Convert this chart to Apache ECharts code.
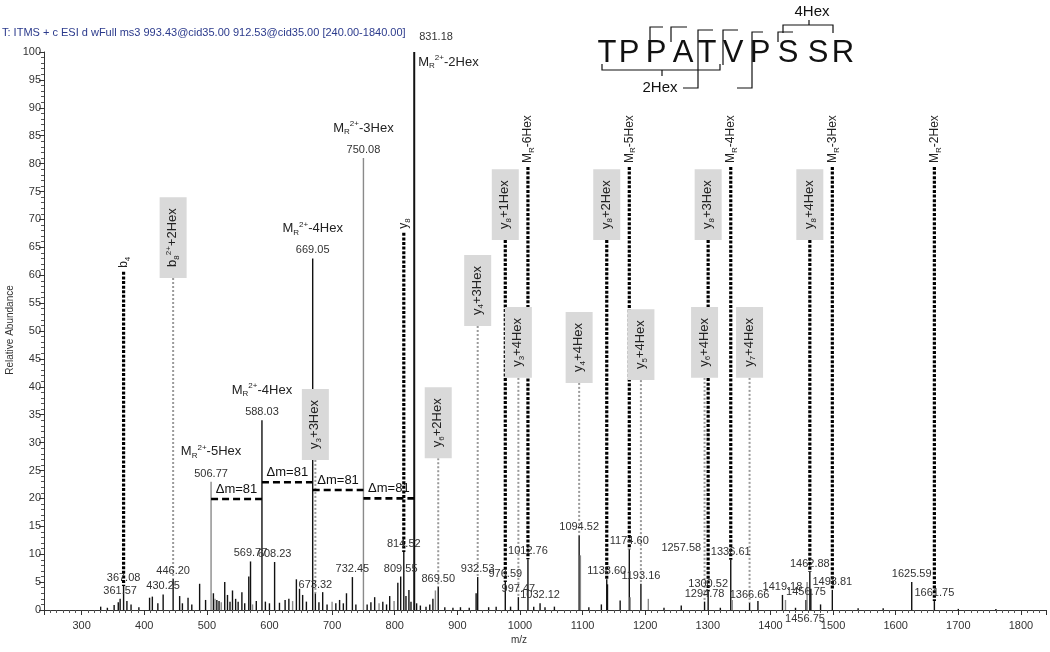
<!DOCTYPE html>
<html><head><meta charset="utf-8">
<script src="https://cdn.jsdelivr.net/npm/echarts@6/dist/echarts.min.js"></script>
<style>html,body{margin:0;padding:0;background:#fff}#c{width:1050px;height:652px}</style>
</head><body><div id="c"></div>
<script>
// ---------- DATA ----------
const titleText = 'T: ITMS + c ESI d wFull ms3 993.43@cid35.00 912.53@cid35.00 [240.00-1840.00]';
const xName = 'm/z';
const yName = 'Relative Abundance';
const sequence = ['T','P','P','A','T','V','P','S','S','R'];

const peakMz = [330.5,341.2,352.0,358.6,361.57,367.08,372.4,379.0,391.5,408.6,413.0,421.8,430.25,446.20,456.6,461.0,470.0,476.0,488.5,498.0,
  506.77,510.5,513.0,516.0,519.5,523.0,528.6,533.0,537.0,541.0,546.0,550.0,556.0,560.5,567.0,569.77,573.0,579.0,588.03,593.5,600.0,
  608.23,616.0,625.0,631.0,637.0,643.0,648.0,653.0,659.0,669.05,673.32,679.0,685.0,692.0,700.0,706.0,712.0,718.0,723.0,732.45,738.0,
  750.08,756.0,762.0,768.0,775.0,781.0,787.0,792.0,799.0,805.0,809.55,814.52,818.0,822.7,826.0,831.18,835.0,841.0,850.0,856.0,861.0,
  865.0,869.50,880.0,893.0,905.0,919.0,930.0,932.53,950.0,962.0,976.59,985.0,997.47,1012.76,1022.0,1032.12,1040.0,1055.0,1094.52,
  1096.5,1110.0,1130.0,1138.60,1139.8,1160.0,1174.60,1176.0,1193.16,1205.0,1230.0,1257.58,1294.78,1300.52,1320.0,1336.61,1339.0,
  1366.66,1380.0,1419.18,1424.0,1440.0,1456.75,1458.5,1462.88,1464.5,1480.0,1498.81,1540.0,1580.0,1625.59,1661.75,1700.0,1760.0];
const peakInt = [0.6,0.4,0.9,1.4,2.0,4.3,1.6,1.0,0.5,2.2,2.4,1.2,2.8,5.6,2.5,1.2,2.2,1.0,4.7,1.8,
  23.0,3.0,2.0,1.8,1.6,1.4,5.0,2.7,1.5,3.5,2.0,1.5,3.2,1.2,6.0,8.7,1.0,1.6,34.0,1.5,1.2,
  8.6,1.3,1.8,2.0,1.6,5.5,3.8,2.7,1.5,63.0,3.0,1.4,3.2,1.0,1.5,1.2,1.8,1.2,3.0,5.9,1.0,
  81.0,1.0,1.4,2.3,1.2,1.5,1.0,2.5,1.6,4.9,6.0,10.4,2.5,3.6,1.5,100,1.2,0.8,0.6,1.0,2.0,
  3.5,4.2,0.5,0.4,0.5,0.4,3.0,5.9,0.5,0.6,5.0,0.6,2.3,9.1,0.6,1.2,0.5,0.6,13.4,
  9.8,0.5,1.0,5.5,4.6,1.7,10.9,2.3,4.7,2.0,0.4,0.8,1.5,3.3,0.4,9.0,1.8,
  1.3,1.6,2.7,1.8,0.4,1.8,5.0,6.8,3.8,1.0,3.6,0.3,0.3,5.0,1.6,0.2,0.2];
const grayMz = [750.08,506.77,1458.5,1176.0,1205.0,573.0,513.0,523.0,637.0,700.0,775.0,799.0,865.0,1096.5,1339.0,1424.0];

const labeledMz = [361.57,367.08,430.25,446.20,506.77,569.77,588.03,608.23,669.05,673.32,732.45,750.08,809.55,814.52,831.18,869.50,
  932.53,976.59,997.47,1012.76,1032.12,1094.52,1138.60,1174.60,1193.16,1257.58,1294.78,1300.52,1336.61,1366.66,1419.18,1456.75,
  1462.88,1498.81,1625.59,1661.75];
const labelFloorMz = [1257.58];
const labelFloorVal = [9.6];

const precursorMz = [506.77,588.03,669.05,750.08,831.18];
const precursorName = ['M{s|R}{p|2+}-5Hex','M{s|R}{p|2+}-4Hex','M{s|R}{p|2+}-4Hex','M{s|R}{p|2+}-3Hex','M{s|R}{p|2+}-2Hex'];

const annMz   = [367.08,446.20,814.52,673.32,869.50,932.53,976.59,1012.76,997.47,1094.52,1138.60,1174.60,1193.16,1294.78,1300.52,1336.61,1366.66,1462.88,1498.81,1661.75];
const annTop  = [60.6,59.5,67.6,26.9,27.2,50.9,66.3,79.4,41.6,40.7,66.3,79.4,41.2,41.6,66.3,79.4,41.6,66.3,79.4,79.4];
const annText = ['b{s|4}','b{s|8}{p|2+}+2Hex','y{s|8}','y{s|3}+3Hex','y{s|6}+2Hex','y{s|4}+3Hex','y{s|8}+1Hex','M{s|R}-6Hex',
  'y{s|3}+4Hex','y{s|4}+4Hex','y{s|8}+2Hex','M{s|R}-5Hex','y{s|5}+4Hex','y{s|6}+4Hex','y{s|8}+3Hex','M{s|R}-4Hex','y{s|7}+4Hex',
  'y{s|8}+4Hex','M{s|R}-3Hex','M{s|R}-2Hex'];
const annThick = [1,0,1,0,0,0,1,1,0,0,1,1,0,0,1,1,0,1,1,1];
const annBoxed = [0,1,0,1,1,1,1,0,1,1,1,0,1,1,1,0,1,1,0,0];

const dmFrom  = [506.77,588.03,669.05,750.08];
const dmTo    = [588.03,669.05,750.08,831.18];
const dmLevel = [19.9,22.9,21.5,20.0];
const dmLabel = 'Δm=81';

// ---------- HELPERS ----------
const FONT = '"Liberation Sans", Arial, sans-serif';
function intensityAt(mz){ const i = peakMz.indexOf(mz); return i >= 0 ? peakInt[i] : 0; }
const richSmall = { s:{fontSize:8, verticalAlign:'bottom', lineHeight:16, fontFamily:FONT, fill:'#222'},
                    p:{fontSize:8, verticalAlign:'top', lineHeight:16, fontFamily:FONT, fill:'#222'} };

const peakData = peakMz.map((m,i)=>[m, peakInt[i]]);
const labelData = labeledMz.map(m=>{
  const k = labelFloorMz.indexOf(m);
  return [m, Math.max(intensityAt(m), k>=0 ? labelFloorVal[k] : 0)];
});
const annData = annMz.map((m,i)=>[m, annTop[i], intensityAt(m), i]);
const dmData = dmFrom.map((m,i)=>[m, dmTo[i], dmLevel[i]]);

const chart = echarts.init(document.getElementById('c'), null, {renderer:'canvas'});
chart.setOption({
  animation:false,
  backgroundColor:'#fff',
  grid:{left:44, right:4, top:52, bottom:42, containLabel:false, outerBoundsMode:'none'},
  xAxis:{type:'value', min:240, max:1840, splitNumber:16,
    axisLine:{lineStyle:{color:'#333', width:1}},
    axisTick:{length:5, lineStyle:{color:'#333'}},
    minorTick:{show:true, splitNumber:10, length:3, lineStyle:{color:'#555'}},
    axisLabel:{showMinLabel:false, showMaxLabel:false, fontSize:11, color:'#333', margin:10, fontFamily:FONT,
      formatter:(v)=>String(v)},
    splitLine:{show:false}},
  yAxis:{type:'value', min:0, max:100, interval:5,
    axisLine:{show:true, lineStyle:{color:'#333', width:1}},
    axisTick:{show:true, length:5, lineStyle:{color:'#333'}},
    minorTick:{show:true, splitNumber:5, length:3, lineStyle:{color:'#555'}},
    axisLabel:{fontSize:11, color:'#333', margin:3, fontFamily:FONT},
    splitLine:{show:false}},
  graphic:[
    {type:'text', x:2, y:33, style:{text:titleText, fill:'#2b3a8c', font:'11px '+FONT, align:'left', verticalAlign:'middle'}},
    {type:'text', x:519, y:640, style:{text:xName, fill:'#333', font:'10px '+FONT, align:'center', verticalAlign:'middle'}},
    {type:'text', x:10, y:330, rotation:Math.PI/2, style:{text:yName, fill:'#333', font:'10px '+FONT, align:'center', verticalAlign:'middle'}},
    {type:'text', x:805, y:619, style:{text:'1456.75', fill:'#333', font:'11px '+FONT, align:'center', verticalAlign:'middle'}},
    // sequence
    ...sequence.map((ch,i)=>({type:'text', x:[607,629,656,683,707,733,760,788,818,843][i], y:53,
      style:{text:ch, fill:'#111', font:'31px '+FONT, align:'center', verticalAlign:'middle'}})),
    {type:'polyline', shape:{points:[[650,42],[650,27],[663,27]]}, style:{stroke:'#111', fill:null, lineWidth:1.2}},
    {type:'polyline', shape:{points:[[671,42],[671,27],[687,27]]}, style:{stroke:'#111', fill:null, lineWidth:1.2}},
    {type:'polyline', shape:{points:[[683,88],[698,88],[698,30],[713,30]]}, style:{stroke:'#111', fill:null, lineWidth:1.2}},
    {type:'polyline', shape:{points:[[723,65],[723,30],[738,30]]}, style:{stroke:'#111', fill:null, lineWidth:1.2}},
    {type:'polyline', shape:{points:[[737,88],[752,88],[752,32],[763,32]]}, style:{stroke:'#111', fill:null, lineWidth:1.2}},
    {type:'polyline', shape:{points:[[778,42],[778,32],[793,32]]}, style:{stroke:'#111', fill:null, lineWidth:1.2}},
    {type:'polyline', shape:{points:[[783,33],[783,25],[833,25],[833,33]]}, style:{stroke:'#111', fill:null, lineWidth:1.2}},
    {type:'line', shape:{x1:809,y1:25,x2:809,y2:20}, style:{stroke:'#111', lineWidth:1.2}},
    {type:'polyline', shape:{points:[[602,64],[602,70],[720,70],[720,64]]}, style:{stroke:'#111', fill:null, lineWidth:1.2}},
    {type:'line', shape:{x1:662,y1:70,x2:662,y2:76}, style:{stroke:'#111', lineWidth:1.2}},
    {type:'text', x:812, y:12, style:{text:'4Hex', fill:'#111', font:'15px '+FONT, align:'center', verticalAlign:'middle'}},
    {type:'text', x:660, y:88, style:{text:'2Hex', fill:'#111', font:'15px '+FONT, align:'center', verticalAlign:'middle'}}
  ],
  series:[
    { // stick spectrum
      type:'custom', data:peakData, encode:{x:0,y:1}, z:2, clip:false,
      renderItem:(params, api)=>{
        const m = api.value(0), v = api.value(1);
        const p0 = api.coord([m,0]), p1 = api.coord([m,v]);
        const gray = grayMz.indexOf(m) >= 0;
        return {type:'line', shape:{x1:p0[0],y1:p0[1],x2:p1[0],y2:p1[1]},
          style:{stroke: gray ? '#8a8a8a' : '#111', lineWidth: v > 90 ? 2 : 1.4}};
      }
    },
    { // dotted annotation lines
      type:'custom', data:annData, encode:{x:0,y:1}, z:3, clip:false,
      renderItem:(params, api)=>{
        const i = params.dataIndex;
        const m = api.value(0);
        const pt = api.coord([m, api.value(1)]);
        const pb = api.coord([m, api.value(2)]);
        const thick = annThick[i] === 1;
        return {type:'line', shape:{x1:pt[0],y1:pt[1],x2:pb[0],y2:pb[1]},
          style:{stroke: thick ? '#000' : '#9a9a9a', lineWidth: thick ? 3.2 : 2, lineDash: thick ? [3,1.6] : [2,2], lineCap:'butt'}};
      }
    },
    { // annotation labels (boxes drawn over lines)
      type:'custom', data:annData, encode:{x:0,y:1}, z:4, clip:false,
      renderItem:(params, api)=>{
        const i = params.dataIndex;
        const pt = api.coord([api.value(0), api.value(1)]);
        const boxed = annBoxed[i] === 1;
        return {type:'text', x:pt[0], y:pt[1] - (boxed ? 0 : 4), rotation:Math.PI/2,
          style:{text:annText[i], x:0, y:0, align:'left', verticalAlign:'middle', fill:'#222',
            fontSize: boxed ? 13 : 12, fontFamily:FONT, lineHeight:16, rich:richSmall,
            backgroundColor: boxed ? '#d9d9d9' : 'transparent', padding: boxed ? [5,11,6,11] : 0}};
      }
    },
    { // peak labels
      type:'custom', data:labelData, encode:{x:0,y:1}, z:5, clip:false,
      renderItem:(params, api)=>{
        const m = api.value(0), v = api.value(1);
        const p = api.coord([m, v]);
        const k = precursorMz.indexOf(m);
        const txt = m.toFixed(2);
        const children = [];
        if (v > 90) {
          children.push({type:'text', x:p[0]+5, y:p[1]-15, style:{text:txt, x:0,y:0, align:'left', verticalAlign:'middle', fill:'#333', fontSize:11, fontFamily:FONT}});
          if (k >= 0) children.push({type:'text', x:p[0]+4, y:p[1]+10, style:{text:precursorName[k], x:0,y:0, align:'left', verticalAlign:'middle', fill:'#222', fontSize:13, fontFamily:FONT, lineHeight:16, rich:richSmall}});
        } else {
          children.push({type:'text', x:p[0], y:p[1]-8, style:{text:txt, x:0,y:0, align:'center', verticalAlign:'middle', fill:'#333', fontSize:11, fontFamily:FONT}});
          if (k >= 0) children.push({type:'text', x:p[0], y:p[1]-30, style:{text:precursorName[k], x:0,y:0, align:'center', verticalAlign:'middle', fill:'#222', fontSize:13, fontFamily:FONT, lineHeight:16, rich:richSmall}});
        }
        return {type:'group', children};
      }
    },
    { // delta-m brackets
      type:'custom', data:dmData, encode:{x:[0,1],y:2}, z:6, clip:false,
      renderItem:(params, api)=>{
        const a = api.coord([api.value(0), api.value(2)]);
        const b = api.coord([api.value(1), api.value(2)]);
        return {type:'group', children:[
          {type:'line', shape:{x1:a[0],y1:a[1],x2:b[0],y2:b[1]}, style:{stroke:'#000', lineWidth:2.6, lineDash:[7,4]}},
          {type:'text', x:(a[0]+b[0])/2, y:a[1]-10, style:{text:dmLabel, x:0,y:0, align:'center', verticalAlign:'middle', fill:'#111', fontSize:13, fontFamily:FONT}}
        ]};
      }
    }
  ]
});
</script></body></html>
